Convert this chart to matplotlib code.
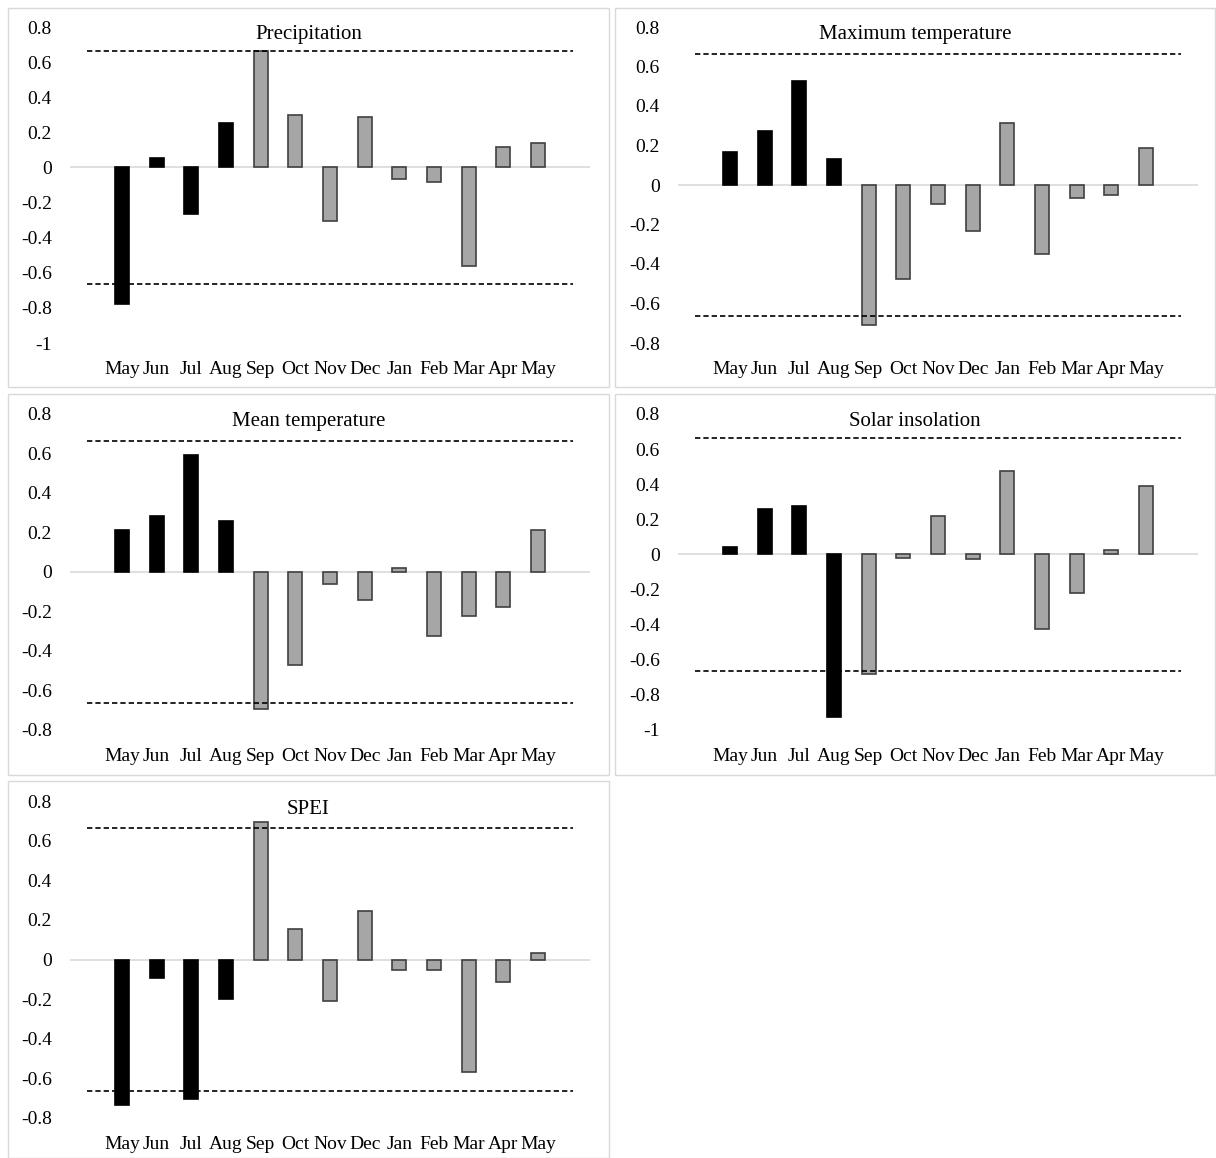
import matplotlib
matplotlib.use("Agg")
import matplotlib.pyplot as plt
from matplotlib.patches import Rectangle

plt.rcParams["font.family"] = ["Liberation Serif", "DejaVu Serif"]
plt.rcParams["axes.unicode_minus"] = False

months = ["May", "Jun", "Jul", "Aug", "Sep", "Oct", "Nov", "Dec",
          "Jan", "Feb", "Mar", "Apr", "May"]
n_prev = 4  # May-Aug of the previous season drawn in black

precipitation = [-0.78, 0.055, -0.265, 0.255, 0.665, 0.30, -0.305, 0.29,
                 -0.063, -0.085, -0.56, 0.117, 0.14]
max_temperature = [0.166, 0.275, 0.527, 0.13, -0.708, -0.478, -0.098, -0.233,
                   0.312, -0.35, -0.064, -0.052, 0.186]
mean_temperature = [0.215, 0.285, 0.594, 0.258, -0.692, -0.473, -0.059, -0.14,
                    0.019, -0.325, -0.222, -0.178, 0.212]
solar_insolation = [0.042, 0.258, 0.275, -0.924, -0.682, -0.023, 0.22, -0.025,
                    0.473, -0.424, -0.222, 0.027, 0.392]
spei = [-0.732, -0.093, -0.703, -0.199, 0.693, 0.152, -0.207, 0.245,
        -0.052, -0.054, -0.57, -0.115, 0.035]

threshold = 0.665

panels = [
    ("Precipitation", precipitation, -1.0),
    ("Maximum temperature", max_temperature, -0.8),
    ("Mean temperature", mean_temperature, -0.8),
    ("Solar insolation", solar_insolation, -1.0),
    ("SPEI", spei, -0.8),
]

W, H = 1216, 1158
fig = plt.figure(figsize=(W / 100, H / 100), dpi=100)
fig.patch.set_facecolor("white")

# pixel geometry: (frame box, plot area, title baseline y)
col_x = [(8, 609, 70, 590), (615, 1215, 678, 1198)]
row_y = [(8, 387, 27, 343, 39), (394, 775, 414, 730, 426), (781, 1158, 801, 1118, 814)]

tick_fs = 14
title_fs = 15

for i, (title, values, ymin) in enumerate(panels):
    r, c = divmod(i, 2)
    fx0, fx1, ax0, ax1 = col_x[c]
    fy0, fy1, ay0, ay1, ty = row_y[r]

    # light grey frame around each chart
    fig.patches.append(Rectangle((fx0 / W, 1 - fy1 / H), (fx1 - fx0) / W, (fy1 - fy0) / H,
                                 transform=fig.transFigure, fill=False,
                                 edgecolor="#D9D9D9", linewidth=1.0, zorder=0))

    ax = fig.add_axes([ax0 / W, 1 - ay1 / H, (ax1 - ax0) / W, (ay1 - ay0) / H])
    ax.set_facecolor("none")
    x = list(range(1, len(months) + 1))
    colors = ["black"] * n_prev + ["#A6A6A6"] * (len(months) - n_prev)
    edges = ["black"] * n_prev + ["#404040"] * (len(months) - n_prev)
    ax.bar(x, values, width=0.4, color=colors, edgecolor=edges, linewidth=1.2, zorder=3)
    ax.axhline(0, color="#D9D9D9", linewidth=1.2, zorder=2)
    ax.hlines([threshold, -threshold], 0, 14, colors="black", linewidth=1.2,
              linestyles=(0, (3.2, 1.8)), zorder=4)

    ax.set_xlim(-0.5, 14.5)
    ax.set_ylim(ymin, 0.8)
    ticks = [round(0.8 - 0.2 * k, 1) for k in range(int(round((0.8 - ymin) / 0.2)) + 1)]
    ax.set_yticks(ticks)
    ax.set_yticklabels(["0" if t == 0 else ("-1" if t == -1 else f"{t:g}") for t in ticks],
                       fontsize=tick_fs)
    ax.set_xticks(x)
    ax.set_xticklabels(months, fontsize=tick_fs)
    ax.tick_params(axis="both", length=0)
    ax.tick_params(axis="y", pad=13)
    ax.tick_params(axis="x", pad=13)
    for s in ax.spines.values():
        s.set_visible(False)

    fig.text((fx0 + fx1) / 2 / W, 1 - ty / H, title, ha="center", va="baseline",
             fontsize=title_fs)

fig.savefig("out.png", dpi=100, facecolor="white")
